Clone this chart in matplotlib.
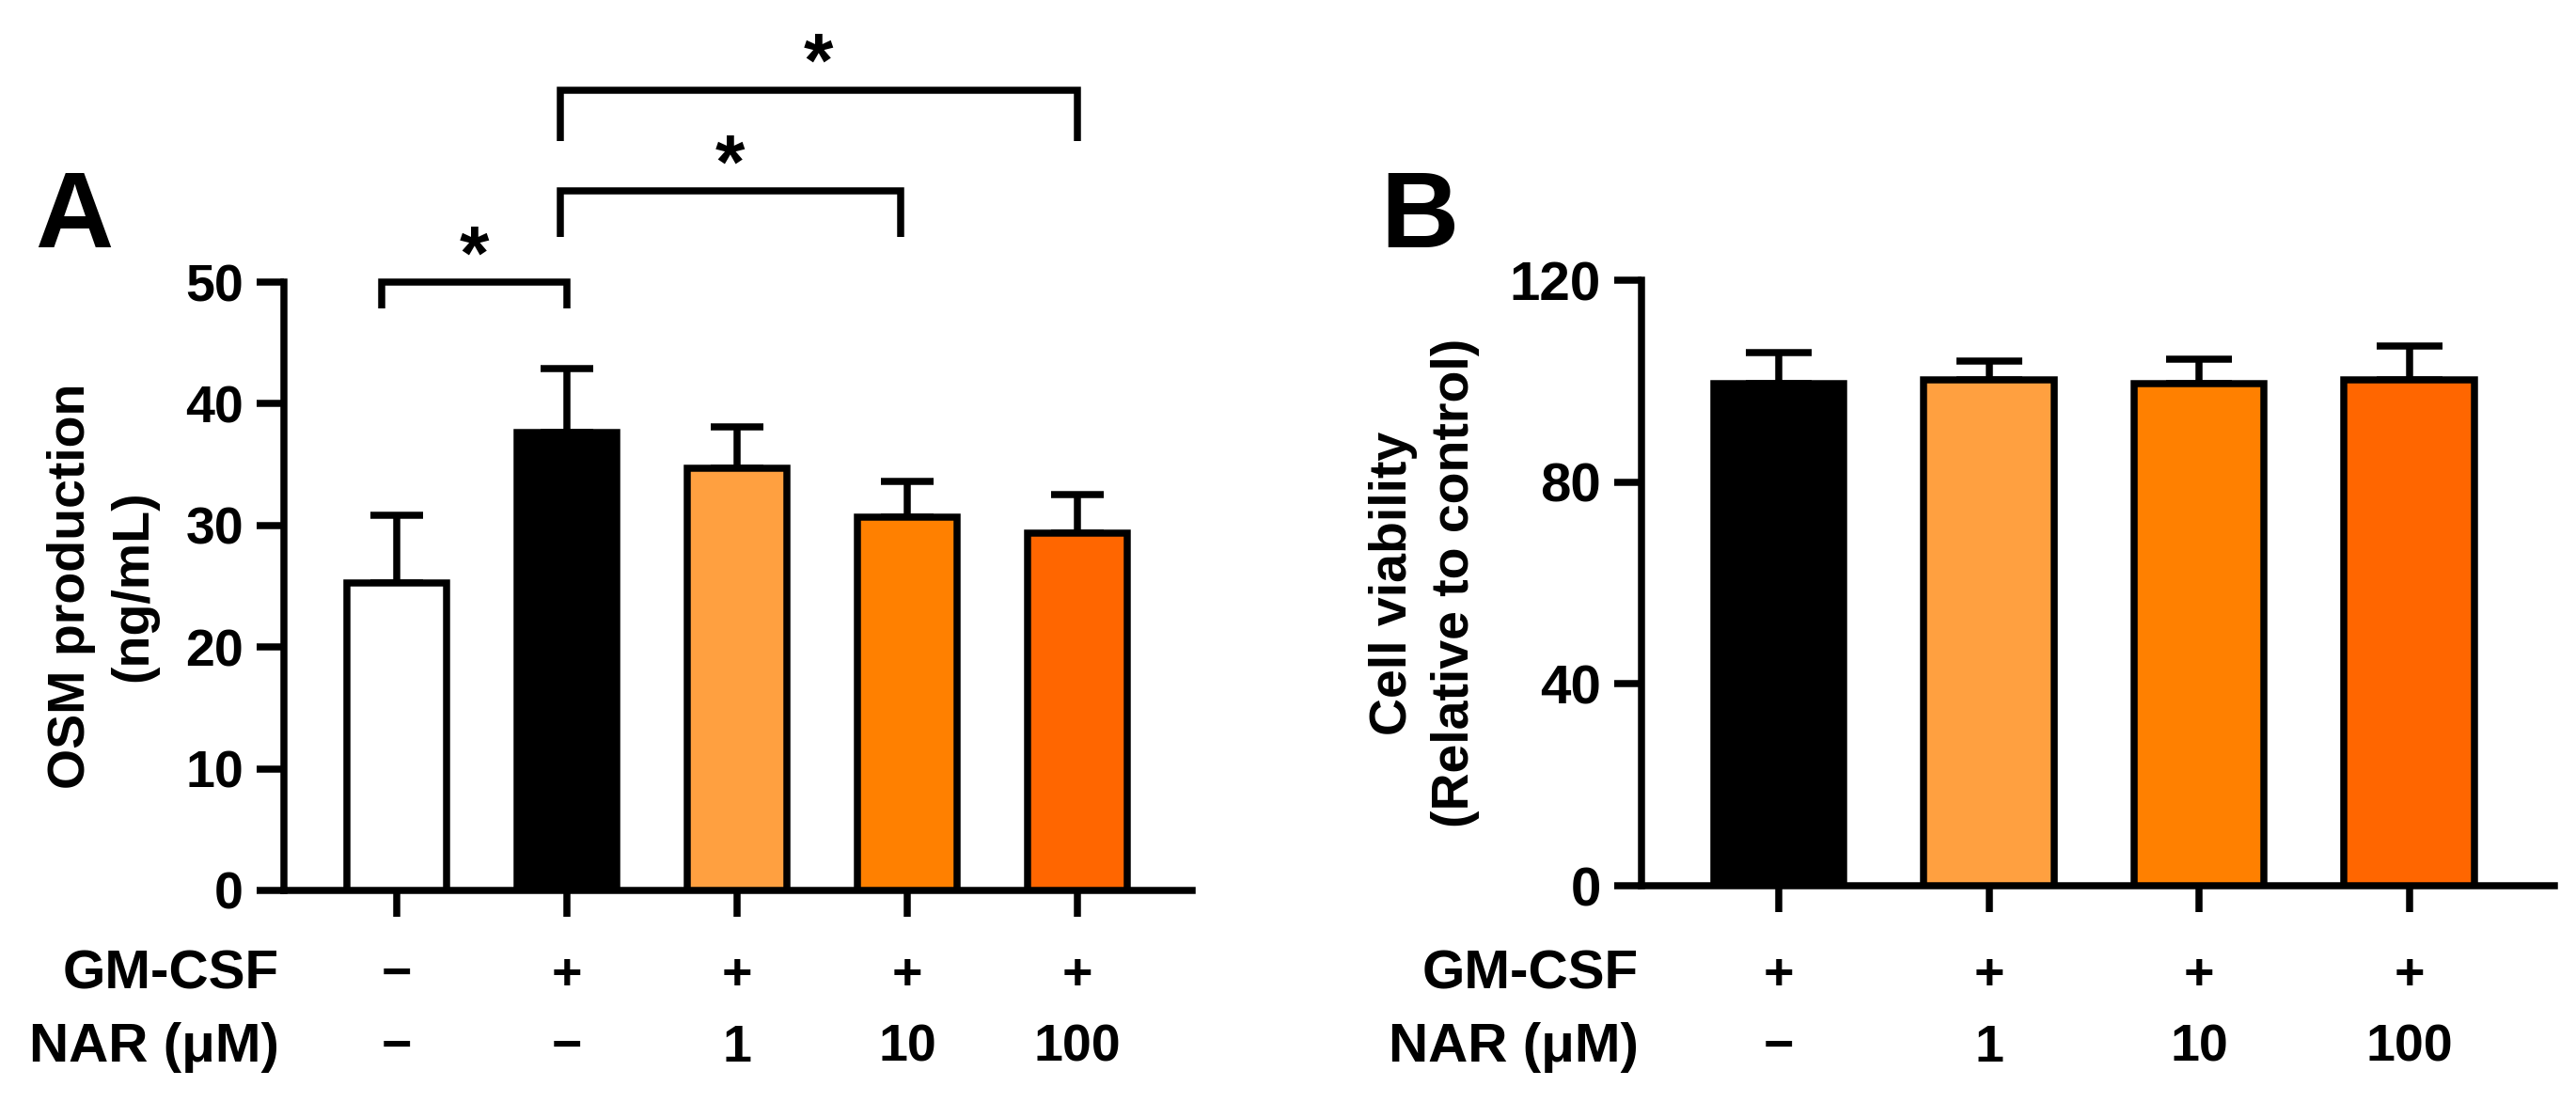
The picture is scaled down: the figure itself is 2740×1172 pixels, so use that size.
import matplotlib
matplotlib.use("Agg")
import matplotlib.pyplot as plt
import matplotlib.transforms as mtransforms

plt.rcParams["font.family"] = ["Liberation Sans", "DejaVu Sans"]
plt.rcParams["font.weight"] = "bold"

# ---- data, panel A (OSM production) ----
osm_mean = [25.3, 37.6, 34.7, 30.7, 29.4]
osm_err = [5.5, 5.3, 3.4, 2.9, 3.1]
a_colors = ["#FFFFFF", "#000000", "#FFA040", "#FF8000", "#FF6600"]
a_gmcsf = ["−", "+", "+", "+", "+"]
a_nar = ["−", "−", "1", "10", "100"]
a_yticks = [0, 10, 20, 30, 40, 50]

# ---- data, panel B (cell viability) ----
via_mean = [99.5, 100.3, 99.5, 100.3]
via_err = [6.2, 3.7, 4.9, 6.7]
b_colors = ["#000000", "#FFA040", "#FF8000", "#FF6600"]
b_gmcsf = ["+", "+", "+", "+"]
b_nar = ["−", "1", "10", "100"]
b_yticks = [0, 40, 80, 120]

# significance brackets in panel A: (left x, right x, top, leg bottom)
brackets = [(-0.09, 1.0, 50.0, 47.8),
            (0.96, 2.96, 57.5, 53.7),
            (0.96, 4.0, 65.8, 61.6)]

LW = 5.4

fig = plt.figure(figsize=(27.4, 11.72), dpi=100)
axA = fig.add_axes([0.1102, 0.1920, 0.3526, 0.552])
axB = fig.add_axes([0.6372, 0.1962, 0.3544, 0.5495])


def draw_panel(ax, means, errs, colors, width, capsize, yticks, tick_fs, xlim):
    x = list(range(len(means)))
    ax.bar(x, means, width=width, color=colors, edgecolor="black",
           linewidth=LW, zorder=3)
    ax.errorbar(x, means, yerr=[[0] * len(means), errs], fmt="none",
                ecolor="black", elinewidth=LW, capsize=capsize,
                capthick=LW, zorder=2)
    ax.set_xlim(*xlim)
    ax.set_ylim(yticks[0], yticks[-1])
    ax.set_yticks(yticks)
    ax.set_xticks(x)
    ax.set_xticklabels([])
    for s in ["top", "right"]:
        ax.spines[s].set_visible(False)
    for s in ["left", "bottom"]:
        ax.spines[s].set_linewidth(LW)
    ax.tick_params(axis="y", length=21, width=LW, pad=10, labelsize=tick_fs)
    ax.tick_params(axis="x", length=20, width=LW)
    for lab in ax.get_yticklabels():
        lab.set_fontweight("bold")


draw_panel(axA, osm_mean, osm_err, a_colors, 0.59, 20, a_yticks, 40,
           (-0.663, 4.674))
draw_panel(axB, via_mean, via_err, b_colors, 0.62, 25, b_yticks, 42,
           (-0.653, 3.69))

# brackets and stars
for x1, x2, yt, yb in brackets:
    axA.plot([x1, x1, x2, x2], [yb, yt, yt, yb], color="black", lw=LW,
             clip_on=False, solid_capstyle="butt", solid_joinstyle="miter")
    axA.text((x1 + x2) / 2, yt + 0.3, "*", ha="center", va="baseline",
             fontsize=58, clip_on=False)

# condition rows under the bars
for ax, gm, nar, lab_x in [(axA, a_gmcsf, a_nar, 297), (axB, b_gmcsf, b_nar, 1743)]:
    trans = mtransforms.blended_transform_factory(ax.transData, fig.transFigure)
    for i in range(len(gm)):
        ax.text(i, 0.1024, gm[i], transform=trans, ha="center", va="baseline",
                fontsize=40)
        ax.text(i, 0.0367, nar[i], transform=trans, ha="center", va="baseline",
                fontsize=40)
    fig.text(lab_x / 2740, 0.1024, "GM-CSF", ha="right", va="baseline", fontsize=42)
    fig.text(lab_x / 2740, 0.0367, "NAR (μM)", ha="right", va="baseline", fontsize=42)

# y labels
fig.text(0.0398, 0.468, "OSM production\n(ng/mL)", rotation=90, ha="center",
         va="center", multialignment="center", fontsize=40, linespacing=1.35)
fig.text(0.553, 0.471, "Cell viability\n(Relative to control)", rotation=90,
         ha="center", va="center", multialignment="center", fontsize=40,
         linespacing=1.35)

# panel letters
fig.text(0.0135, 0.7756, "A", fontsize=83, ha="left", va="baseline")
fig.text(0.5358, 0.7756, "B", fontsize=83, ha="left", va="baseline")

fig.savefig("out.png", dpi=100, facecolor="white")
